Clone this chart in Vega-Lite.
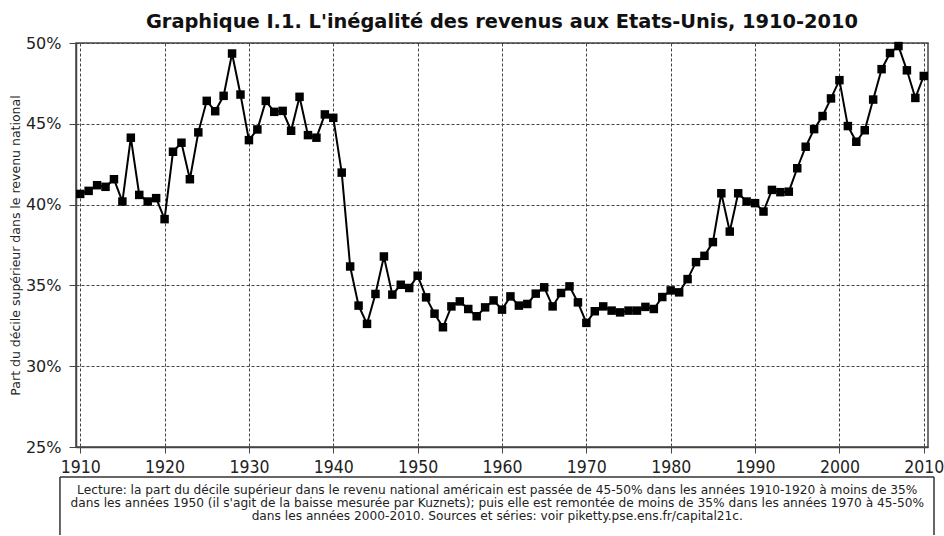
{
  "$schema": "https://vega.github.io/schema/vega-lite/v6.json",
  "background": "white",
  "padding": {"left": 8, "top": 11, "right": 0, "bottom": 0},
  "spacing": -4,
  "config": {"view": {"stroke": null}},
  "vconcat": [
    {
      "width": 852,
      "height": 404,
      "title": {
        "text": "Graphique I.1. L'inégalité des revenus aux Etats-Unis, 1910-2010",
        "font": "DejaVu Sans",
        "fontSize": 19.4,
        "fontWeight": "bold",
        "color": "#111",
        "anchor": "middle",
        "frame": "group",
        "baseline": "alphabetic",
        "offset": -12.5
      },
      "view": {"stroke": "#444", "strokeWidth": 1.5},
      "data": {"values": [
        {"year":1910,"share":40.66},{"year":1911,"share":40.85},{"year":1912,"share":41.2},{"year":1913,"share":41.1},{"year":1914,"share":41.57},
        {"year":1915,"share":40.19},{"year":1916,"share":44.14},{"year":1917,"share":40.6},{"year":1918,"share":40.19},{"year":1919,"share":40.4},
        {"year":1920,"share":39.1},{"year":1921,"share":43.27},{"year":1922,"share":43.83},{"year":1923,"share":41.57},{"year":1924,"share":44.47},
        {"year":1925,"share":46.42},{"year":1926,"share":45.78},{"year":1927,"share":46.73},{"year":1928,"share":49.35},{"year":1929,"share":46.81},
        {"year":1930,"share":43.99},{"year":1931,"share":44.65},{"year":1932,"share":46.42},{"year":1933,"share":45.74},{"year":1934,"share":45.8},
        {"year":1935,"share":44.57},{"year":1936,"share":46.67},{"year":1937,"share":44.3},{"year":1938,"share":44.14},{"year":1939,"share":45.58},
        {"year":1940,"share":45.37},{"year":1941,"share":41.98},{"year":1942,"share":36.17},{"year":1943,"share":33.75},{"year":1944,"share":32.62},
        {"year":1945,"share":34.47},{"year":1946,"share":36.79},{"year":1947,"share":34.43},{"year":1948,"share":35.04},{"year":1949,"share":34.84},
        {"year":1950,"share":35.6},{"year":1951,"share":34.26},{"year":1952,"share":33.25},{"year":1953,"share":32.41},{"year":1954,"share":33.7},
        {"year":1955,"share":34.01},{"year":1956,"share":33.54},{"year":1957,"share":33.09},{"year":1958,"share":33.64},{"year":1959,"share":34.07},
        {"year":1960,"share":33.5},{"year":1961,"share":34.32},{"year":1962,"share":33.75},{"year":1963,"share":33.85},{"year":1964,"share":34.49},
        {"year":1965,"share":34.88},{"year":1966,"share":33.7},{"year":1967,"share":34.53},{"year":1968,"share":34.94},{"year":1969,"share":33.95},
        {"year":1970,"share":32.68},{"year":1971,"share":33.4},{"year":1972,"share":33.7},{"year":1973,"share":33.44},{"year":1974,"share":33.33},
        {"year":1975,"share":33.44},{"year":1976,"share":33.44},{"year":1977,"share":33.67},{"year":1978,"share":33.54},{"year":1979,"share":34.28},
        {"year":1980,"share":34.69},{"year":1981,"share":34.57},{"year":1982,"share":35.39},{"year":1983,"share":36.44},{"year":1984,"share":36.83},
        {"year":1985,"share":37.68},{"year":1986,"share":40.7},{"year":1987,"share":38.33},{"year":1988,"share":40.7},{"year":1989,"share":40.19},
        {"year":1990,"share":40.09},{"year":1991,"share":39.57},{"year":1992,"share":40.91},{"year":1993,"share":40.77},{"year":1994,"share":40.8},
        {"year":1995,"share":42.25},{"year":1996,"share":43.58},{"year":1997,"share":44.67},{"year":1998,"share":45.48},{"year":1999,"share":46.57},
        {"year":2000,"share":47.7},{"year":2001,"share":44.86},{"year":2002,"share":43.89},{"year":2003,"share":44.6},{"year":2004,"share":46.5},
        {"year":2005,"share":48.38},{"year":2006,"share":49.38},{"year":2007,"share":49.81},{"year":2008,"share":48.31},{"year":2009,"share":46.6},
        {"year":2010,"share":47.96}
      ]},
      "encoding": {
        "x": {
          "field": "year", "type": "quantitative",
          "scale": {"domain": [1909.5, 2010.5], "nice": false, "zero": false},
          "axis": {
            "title": null,
            "values": [1910,1920,1930,1940,1950,1960,1970,1980,1990,2000,2010],
            "format": "d",
            "labelFont": "Liberation Sans Narrow, Arial Narrow, DejaVu Sans Condensed",
            "labelFontSize": 17.5,
            "labelColor": "#222",
            "labelFlush": false,
            "labelOverlap": false,
            "labelPadding": 5,
            "tickSize": 6,
            "tickColor": "#444",
            "domainColor": "#444",
            "domainWidth": 1.5,
            "grid": true,
            "gridColor": "#444",
            "gridDash": [3, 2],
            "gridWidth": 1
          }
        },
        "y": {
          "field": "share", "type": "quantitative",
          "scale": {"domain": [25, 50], "nice": false, "zero": false},
          "axis": {
            "title": "Part du décile supérieur dans le revenu national",
            "titleFont": "DejaVu Sans",
            "titleFontSize": 12.5,
            "titleFontWeight": "normal",
            "titleColor": "#222",
            "titlePadding": 3,
            "values": [25, 30, 35, 40, 45, 50],
            "labelExpr": "datum.value + '%'",
            "labelFont": "DejaVu Sans",
            "labelFontSize": 16,
            "labelColor": "#222",
            "labelPadding": 8,
            "tickSize": 7,
            "tickColor": "#444",
            "domainColor": "#444",
            "domainWidth": 1.5,
            "grid": true,
            "gridColor": "#444",
            "gridDash": [3, 2],
            "gridWidth": 1
          }
        }
      },
      "layer": [
        {"mark": {"type": "line", "color": "black", "strokeWidth": 2}},
        {"mark": {"type": "point", "shape": "square", "filled": true, "color": "black", "opacity": 1, "size": 72}}
      ]
    },
    {
      "width": 858,
      "height": 58,
      "data": {"values": [
        {"line": 1, "text": "Lecture: la part du décile supérieur dans le revenu national américain est passée de 45-50% dans les années 1910-1920 à moins de 35%"},
        {"line": 2, "text": "dans les années 1950 (il s'agit de la baisse mesurée par Kuznets); puis elle est remontée de moins de 35% dans les années 1970 à 45-50%"},
        {"line": 3, "text": "dans les années 2000-2010. Sources et séries: voir piketty.pse.ens.fr/capital21c."}
      ]},
      "layer": [
        {
          "mark": {"type": "text", "font": "DejaVu Sans", "fontSize": 12.2, "color": "#222", "align": "center", "baseline": "middle"},
          "encoding": {
            "x": {"datum": 0.491, "type": "quantitative", "scale": {"domain": [0, 1], "nice": false, "zero": false}, "axis": null},
            "y": {"field": "line", "type": "quantitative", "scale": {"domain": [-0.06, 4.53], "nice": false, "zero": false, "reverse": true}, "axis": null},
            "text": {"field": "text"}
          }
        },
        {
          "data": {"values": [{"edge": -0.0187}, {"edge": 1}]},
          "mark": {"type": "rule", "color": "#333", "strokeWidth": 1.5},
          "encoding": {"x": {"field": "edge", "type": "quantitative", "scale": {"domain": [0, 1], "nice": false, "zero": false}}}
        },
        {
          "data": {"values": [{"from": -0.0187, "to": 1, "top": -0.06}]},
          "mark": {"type": "rule", "color": "#333", "strokeWidth": 1.5},
          "encoding": {
            "x": {"field": "from", "type": "quantitative", "scale": {"domain": [0, 1], "nice": false, "zero": false}},
            "x2": {"field": "to"},
            "y": {"field": "top", "type": "quantitative"}
          }
        }
      ]
    }
  ]
}
